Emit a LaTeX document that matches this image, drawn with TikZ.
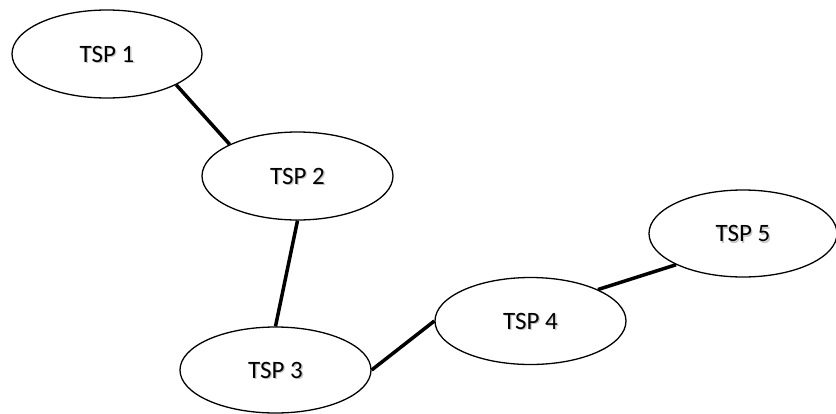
\documentclass[tikz,border=0pt]{standalone}
\usepackage{fontspec}
\setmainfont{Carlito}
\usetikzlibrary{shapes.geometric}
\tikzset{
  labelfont/.style={font=\fontsize{25}{30}\selectfont},
  tsp/.style={ellipse, draw=black, line width=1.3pt, inner sep=0pt, labelfont},
  shadowtext/.style={labelfont, text=black!22, inner sep=0pt, xshift=1.3pt, yshift=-1.6pt},
  conn/.style={line width=3.5pt, black}
}
\begin{document}
\begin{tikzpicture}[x=1pt, y=-1pt]
  \useasboundingbox (0,0) rectangle (836,413);
  % soft text shadows, drawn first so the labels sit on top
  \node[shadowtext] (s1) at (107,54) {TSP 1};
  \node[shadowtext] (s2) at (297.5,176) {TSP 2};
  \node[shadowtext] (s3) at (275.5,370) {TSP 3};
  \node[shadowtext] (s4) at (530.5,321) {TSP 4};
  \node[shadowtext] (s5) at (743,233.5) {TSP 5};
  % the five ellipses
  \node[tsp, minimum width=190pt, minimum height=88pt] (t1) at (107,54) {TSP 1};
  \node[tsp, minimum width=191pt, minimum height=88pt] (t2) at (297.5,176) {TSP 2};
  \node[tsp, minimum width=191pt, minimum height=86pt] (t3) at (275.5,370) {TSP 3};
  \node[tsp, minimum width=191pt, minimum height=87pt] (t4) at (530.5,321) {TSP 4};
  \node[tsp, minimum width=188pt, minimum height=87pt] (t5) at (743,233.5) {TSP 5};
  % links between them
  \draw[conn] (t1.-24) -- (t2.155);
  \draw[conn] (t2.-90) -- (t3.90);
  \draw[conn] (t3.0) -- (t4.180);
  \draw[conn] (t4.25) -- (t5.205);
\end{tikzpicture}
\end{document}
